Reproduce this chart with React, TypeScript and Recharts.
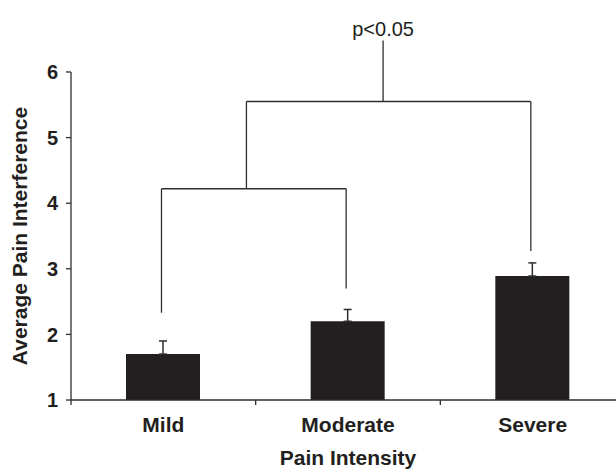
import React from "react";
import {
  ComposedChart, Bar, ErrorBar, XAxis, YAxis, ReferenceLine, ReferenceDot, Label,
} from "recharts";

const categories = ["Mild", "Moderate", "Severe"];
const positions = [0.5, 1.5, 2.5];
const means = [1.7, 2.2, 2.89];
const upperErrors = [0.2, 0.18, 0.2];

const yTicks = [1, 2, 3, 4, 5, 6];
const xTicks = [0, 0.5, 1, 1.5, 2, 2.5, 3];

// bracket segments: [x1, y1, x2, y2] in data units
const brackets = [
  [0.49, 2.33, 0.49, 4.22],
  [0.49, 4.22, 1.49, 4.22],
  [1.49, 2.7, 1.49, 4.22],
  [0.95, 4.22, 0.95, 5.55],
  [0.95, 5.55, 2.49, 5.55],
  [2.49, 3.27, 2.49, 5.55],
  [1.69, 5.55, 1.69, 6.48],
];
const pLabel = { x: 1.69, y: 6.55, text: "p<0.05" };

const data = categories.map((name, i) => ({
  name,
  x: positions[i],
  mean: means[i],
  err: [0, upperErrors[i]],
}));

const INK = "#231f20";
const LINE = "#2e2e2e";
const FONT = "'Liberation Sans', Arial, sans-serif";

function CatTick(props: any) {
  const { x, y, payload } = props;
  const v = payload.value;
  if (Number.isInteger(v)) {
    return <line x1={x} x2={x} y1={y} y2={y + 5} stroke={LINE} strokeWidth={1.3} />;
  }
  return (
    <text x={x} y={y + 17} dy="0.71em" textAnchor="middle" fontSize={21} fontWeight="bold" fill={INK} fontFamily={FONT}>
      {categories[Math.floor(v)]}
    </text>
  );
}

export default function App() {
  return (
    <div style={{ position: "absolute", left: 0, top: 0, width: 616, height: 470, overflow: "hidden", background: "#fff" }}>
      <ComposedChart
        width={625}
        height={470}
        data={data}
        margin={{ top: 72, right: 0, bottom: 0, left: 0 }}
        style={{ fontFamily: FONT }}
      >
        <XAxis
          dataKey="x"
          type="number"
          domain={[0, 3]}
          ticks={xTicks}
          interval={0}
          tick={<CatTick />}
          tickLine={false}
          tickSize={0}
          tickMargin={0}
          height={70}
          axisLine={{ stroke: LINE, strokeWidth: 1.3 }}
        >
          <Label
            value="Pain Intensity"
            position="insideBottom"
            offset={5}
            style={{ fontSize: 21, fontWeight: "bold", fill: INK, fontFamily: FONT }}
          />
        </XAxis>
        <YAxis
          type="number"
          domain={[1, 6]}
          ticks={yTicks}
          interval={0}
          width={71}
          tickSize={5}
          tickMargin={8}
          axisLine={{ stroke: LINE, strokeWidth: 1.3 }}
          tickLine={{ stroke: LINE, strokeWidth: 1.3 }}
          tick={{ fontSize: 20, fontWeight: "bold", fill: INK, fontFamily: FONT }}
        >
          <Label
            value="Average Pain Interference"
            angle={-90}
            position="insideLeft"
            offset={20}
            style={{ textAnchor: "middle", fontSize: 21, fontWeight: "bold", fill: INK, fontFamily: FONT }}
          />
        </YAxis>
        <Bar dataKey="mean" fill={INK} barSize={74} isAnimationActive={false}>
          <ErrorBar dataKey="err" direction="y" width={4} stroke={LINE} strokeWidth={1.5} isAnimationActive={false} />
        </Bar>
        {brackets.map((b, i) => (
          <ReferenceLine
            key={i}
            segment={[{ x: b[0], y: b[1] }, { x: b[2], y: b[3] }]}
            stroke={LINE}
            strokeWidth={1.3}
            ifOverflow="visible"
          />
        ))}
        <ReferenceDot
          x={pLabel.x}
          y={pLabel.y}
          r={0}
          fill="none"
          stroke="none"
          ifOverflow="visible"
          label={{ value: pLabel.text, position: "top", offset: 0, fontSize: 20, fill: INK, fontFamily: FONT }}
        />
      </ComposedChart>
    </div>
  );
}
